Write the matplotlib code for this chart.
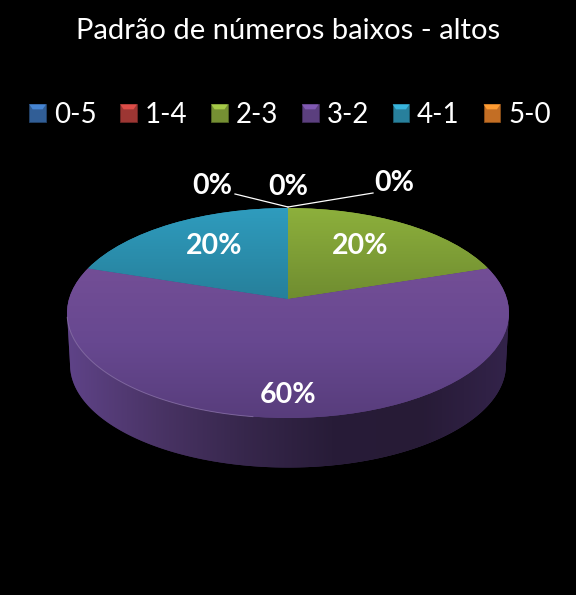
import matplotlib
matplotlib.use("Agg")
import matplotlib.pyplot as plt
import numpy as np
from matplotlib.colors import LinearSegmentedColormap
from matplotlib.legend_handler import HandlerPatch
from matplotlib.patches import Polygon, Rectangle
from matplotlib.transforms import Transform

plt.rcParams["font.family"] = ["Lato", "DejaVu Sans"]

title = "Padrão de números baixos - altos"
categories = ["0-5", "1-4", "2-3", "3-2", "4-1", "5-0"]
values = [0, 0, 20, 60, 20, 0]
colors = ["#3a6fb0", "#b8403c", "#8aa83c", "#6b4a94", "#2f97b8", "#e6822a"]

# top -> bottom shading for the slices that show
shades = {
    "2-3": ["#8db03c", "#6f8c30"],
    "3-2": ["#734e96", "#674890", "#583d7c"],
    "4-1": ["#2f9cbe", "#267f9a"],
}
wall_shade = ["#5f4388", "#4a3466", "#37274c", "#281c38", "#271b36", "#33234a"]

# where each label goes, pixels
label_pos = [(212, 186), (288, 187), (360, 246), (288, 395), (214, 246), (394, 183)]
leaders = {0: [(235, 194), (288, 207)], 5: [(373, 193), (288, 207)]}


class Tilt(Transform):
    # unit circle to the tilted disc, in image pixels
    input_dims = output_dims = 2

    def __init__(self, cx=288, cy=299, rx=219, ry=103.1, k=0.1333):
        super().__init__()
        self.p = (cx, cy, rx, ry, k)

    def transform_non_affine(self, xy):
        cx, cy, rx, ry, k = self.p
        xy = np.asarray(xy)
        w = 1 + k * xy[:, 1]
        return np.column_stack([cx + rx * xy[:, 0] / w, cy - ry * xy[:, 1] / w])


class BevelHandler(HandlerPatch):
    # little square with a lighter top, like the office legend keys
    def create_artists(self, legend, orig, xd, yd, w, h, fontsize, trans):
        col = np.array(matplotlib.colors.to_rgb(orig.get_facecolor()))
        box = Rectangle((-xd, -yd), w, h, fc=col * 0.85, ec=col * 0.6, lw=0.6, transform=trans)
        top = Polygon([(-xd, -yd + h), (-xd + w, -yd + h), (-xd + w * 0.8, -yd + h * 0.72),
                       (-xd + w * 0.2, -yd + h * 0.72)],
                      fc=np.minimum(col * 1.2, 1), ec="none", transform=trans)
        return [box, top]


def gradient(ax, stops, horizontal=False, extent=None):
    cmap = LinearSegmentedColormap.from_list("s", stops)
    g = np.linspace(0, 1, 256)
    g = g.reshape(1, -1) if horizontal else g.reshape(-1, 1)
    return ax.imshow(g, cmap=cmap, aspect="auto", extent=extent,
                     interpolation="bilinear", zorder=3)


def main():
    fig = plt.figure(figsize=(5.76, 5.95), dpi=100, facecolor="black")
    ax = fig.add_axes([0, 0, 1, 1])

    wedges, _ = ax.pie(values, colors=colors, startangle=90, counterclock=False)
    ax.set_aspect("auto")
    ax.set_xlim(0, 576)
    ax.set_ylim(595, 0)

    top = Tilt()
    for w in wedges:
        w.set_transform(top + ax.transData)
        w.set_linewidth(0)
        w.set_zorder(2)

    # side of the disc
    low = Tilt(cy=351, rx=216, ry=101)
    t = np.radians(np.linspace(187.7, 352.3, 200))
    circle = np.column_stack([np.cos(t), np.sin(t)])
    outline = np.vstack([top.transform(circle), low.transform(circle)[::-1]])
    wall = Polygon(outline, closed=True, fc="#3a2a50", ec="none", zorder=1)
    ax.add_patch(wall)
    im = gradient(ax, wall_shade, horizontal=True, extent=(67, 509, 595, 0))
    im.set_zorder(1.5)
    im.set_clip_path(wall)

    # face shading, clipped to each slice
    for w, name in zip(wedges, categories):
        if name in shades:
            y0 = 268 if name == "3-2" else 208
            y1 = 418 if name == "3-2" else 300
            im = gradient(ax, shades[name], extent=(60, 516, y1, y0))
            im.set_clip_path(w)

    # thin light rim on the front left edge
    t = np.radians(np.linspace(190, 262, 80))
    rim = top.transform(np.column_stack([np.cos(t), np.sin(t)]))
    ax.plot(rim[:, 0], rim[:, 1], color="#8f78ad", lw=0.7, alpha=0.7, zorder=4)

    ax.set_xlim(0, 576)
    ax.set_ylim(595, 0)
    ax.axis("off")

    for i, v in enumerate(values):
        x, y = label_pos[i]
        ax.text(x, y, f"{v}%", color="white", fontsize=20.5, fontweight="bold",
                ha="center", va="center", zorder=6)
    for pts in leaders.values():
        xs, ys = zip(*pts)
        ax.plot(xs, ys, color="white", lw=0.9, zorder=5)

    fig.text(288 / 576, 1 - 31 / 595, title, color="white", fontsize=21,
             ha="center", va="center")

    leg = ax.legend(wedges, categories, ncol=6, loc="center",
                    bbox_to_anchor=(290 / 576, 1 - 115 / 595), frameon=False,
                    fontsize=20, handlelength=0.6, handleheight=0.6,
                    handletextpad=0.28, columnspacing=0.86, borderpad=0,
                    labelcolor="white",
                    handler_map={w: BevelHandler() for w in wedges})
    leg.set_zorder(7)

    fig.savefig("out.png", dpi=100, facecolor="black")


if __name__ == "__main__":
    main()
